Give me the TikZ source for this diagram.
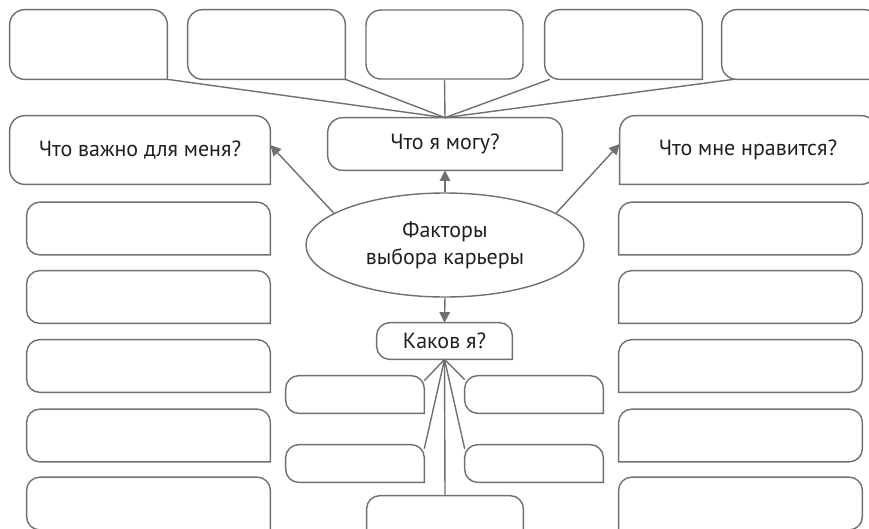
\documentclass[tikz,border=0pt]{standalone}
\usepackage{fontspec}
\setmainfont{PT Sans}
\usepackage{xcolor}
\usepackage{tikz}
\usetikzlibrary{shapes.geometric,arrows.meta}

\definecolor{linegray}{RGB}{112,112,112}
\definecolor{inkblack}{RGB}{35,31,32}

\tikzset{
  outline/.style={draw=linegray, line width=0.8pt, line cap=rect, rounded corners=#1},
  outline/.default=0.26cm,
  card/.style={rectangle, inner sep=0pt, text=inkblack, font=\fontsize{12.5}{15}\selectfont},
  link/.style={linegray, line width=0.8pt},
  arrowlink/.style={linegray, line width=0.8pt, -{Triangle[length=6pt,width=6pt]}}
}

% outlines with one square corner
\newcommand{\outlinebr}[2][0.26cm]{\draw [outline=#1] (#2.south east) -- (#2.north east) -- (#2.north west) -- (#2.south west) -- (#2.south east);}
\newcommand{\outlinebl}[2][0.26cm]{\draw [outline=#1] (#2.south west) -- (#2.south east) -- (#2.north east) -- (#2.north west) -- (#2.south west);}

\begin{document}
\begin{tikzpicture}[x=0.02cm, y=0.02cm]
    \useasboundingbox (0,0) rectangle (869,-528);
    \clip (0,0) rectangle (869,-528);

    % top row
    \node [card, minimum width=3.14cm, minimum height=1.38cm] (top1) at (88.5,-44.5) {};
    \node [card, minimum width=3.14cm, minimum height=1.38cm] (top2) at (266.5,-44.5) {};
    \node [card, minimum width=3.14cm, minimum height=1.38cm, draw=linegray, line width=0.8pt, rounded corners=0.3cm] (top3) at (444.5,-44.5) {};
    \node [card, minimum width=3.14cm, minimum height=1.38cm] (top4) at (623.5,-44.5) {};
    \node [card, minimum width=3.14cm, minimum height=1.38cm] (top5) at (800.5,-44.5) {};
    \outlinebr[0.3cm]{top1}
    \outlinebr[0.3cm]{top2}
    \outlinebr[0.3cm]{top4}
    \outlinebr[0.3cm]{top5}

    % questions
    \node [card, minimum width=5.2cm, minimum height=1.36cm] (vazhno) at (140,-150) {Что важно для меня?};
    \node [card, minimum width=4.68cm, minimum height=1.04cm] (mogu) at (445,-144) {Что я могу?};
    \node [card, minimum width=5.12cm, minimum height=1.36cm] (nravitsya) at (748,-150) {Что мне нравится?};
    \outlinebr[0.3cm]{vazhno}
    \outlinebr[0.3cm]{mogu}
    \outlinebl[0.3cm]{nravitsya}

    \node [ellipse, draw=linegray, line width=0.8pt, inner sep=0pt, minimum width=5.56cm, minimum height=2.08cm,
           text=inkblack, font=\fontsize{12.5}{15.5}\selectfont, align=center] (factors) at (445,-245) {Факторы\\выбора карьеры};

    \node [card, minimum width=2.7cm, minimum height=0.72cm] (kakov) at (444.5,-341) {Каков я?};
    \outlinebr{kakov}

    % left column
    \node [card, minimum width=4.86cm, minimum height=1.04cm] (left1) at (148.5,-228.5) {};
    \node [card, minimum width=4.86cm, minimum height=1.04cm] (left2) at (148.5,-297) {};
    \node [card, minimum width=4.86cm, minimum height=1.04cm] (left3) at (148.5,-366) {};
    \node [card, minimum width=4.86cm, minimum height=1.04cm] (left4) at (148.5,-435.5) {};
    \node [card, minimum width=4.86cm, minimum height=1.04cm] (left5) at (148.5,-503.5) {};
    \outlinebr{left1}
    \outlinebr{left2}
    \outlinebr{left3}
    \outlinebr{left4}
    \outlinebr{left5}

    % right column
    \node [card, minimum width=4.86cm, minimum height=1.04cm] (right1) at (740.5,-228.5) {};
    \node [card, minimum width=4.86cm, minimum height=1.04cm] (right2) at (740.5,-297) {};
    \node [card, minimum width=4.86cm, minimum height=1.04cm] (right3) at (740.5,-366) {};
    \node [card, minimum width=4.86cm, minimum height=1.04cm] (right4) at (740.5,-435.5) {};
    \node [card, minimum width=4.86cm, minimum height=1.04cm] (right5) at (740.5,-503.5) {};
    \outlinebl{right1}
    \outlinebl{right2}
    \outlinebl{right3}
    \outlinebl{right4}
    \outlinebl{right5}

    % small boxes under "Каков я?"
    \node [card, minimum width=2.76cm, minimum height=0.74cm] (trait1) at (355,-394.5) {};
    \node [card, minimum width=2.76cm, minimum height=0.74cm] (trait2) at (355,-463.5) {};
    \node [card, minimum width=2.76cm, minimum height=0.74cm] (trait3) at (534,-394.5) {};
    \node [card, minimum width=2.76cm, minimum height=0.74cm] (trait4) at (534,-463.5) {};
    \node [card, minimum width=3.12cm, minimum height=1.08cm] (trait5) at (445,-523) {};
    \outlinebr{trait1}
    \outlinebr{trait2}
    \outlinebr{trait3}
    \outlinebr{trait4}
    \outlinebr{trait5}

    % connectors
    \draw [link] (top1.south east) -- (mogu.north);
    \draw [link] (top2.south east) -- (mogu.north);
    \draw [link] (top3.south) -- (mogu.north);
    \draw [link] ([xshift=0.1cm]top4.south west) -- (mogu.north);
    \draw [link] ([xshift=0.24cm]top5.south west) -- (mogu.north);

    \draw [arrowlink] (factors.164) -- ([yshift=0.1cm]vazhno.east);
    \draw [arrowlink] (factors.16) -- ([yshift=0.12cm]nravitsya.west);
    \draw [arrowlink] (factors.north) -- (mogu.south);
    \draw [arrowlink] (factors.south) -- (kakov.north);

    \draw [link] (kakov.south) -- ([yshift=-0.1cm]trait1.north east);
    \draw [link] (kakov.south) -- ([yshift=-0.08cm]trait2.north east);
    \draw [link] (kakov.south) -- ([yshift=-0.08cm]trait3.north west);
    \draw [link] (kakov.south) -- ([yshift=-0.08cm]trait4.north west);
    \draw [link] (kakov.south) -- (trait5.north);
\end{tikzpicture}
\end{document}
